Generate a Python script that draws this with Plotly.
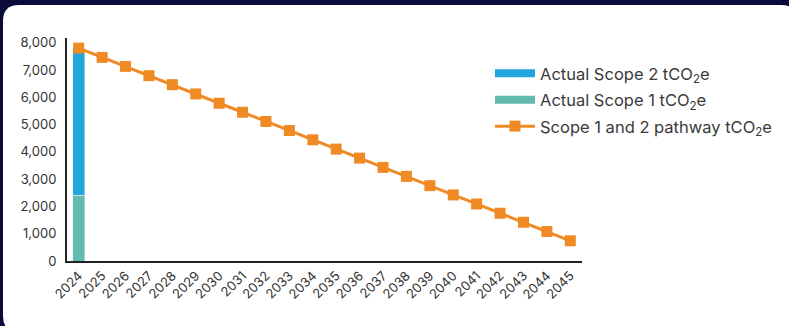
import plotly.graph_objects as go

years = [str(y) for y in range(2024, 2046)]
scope2_actual = [5400]
scope1_actual = [2400]
actual_years = ["2024"]
pathway = [7800, 7460, 7130, 6790, 6460, 6120, 5780, 5450, 5110, 4780, 4440,
           4100, 3770, 3430, 3100, 2760, 2420, 2090, 1750, 1420, 1080, 740]

BLUE = "#22A4DD"
TEAL = "#63BAAE"
ORANGE = "#F08A24"
NAVY = "#0A0A3C"

W, H = 789, 326
ML, MR, MT, MB = 67, 207, 38, 65
PW, PH = W - ML - MR, H - MT - MB


def px(x):
    return (x - ML) / PW


def py(y):
    return (H - MB - y) / PH


def rounded_rect(x0, y0, x1, y1, r):
    p = []
    p.append(f"M{px(x0 + r)},{py(y0)}")
    p.append(f"L{px(x1 - r)},{py(y0)}")
    p.append(f"Q{px(x1)},{py(y0)} {px(x1)},{py(y0 + r)}")
    p.append(f"L{px(x1)},{py(y1 - r)}")
    p.append(f"Q{px(x1)},{py(y1)} {px(x1 - r)},{py(y1)}")
    p.append(f"L{px(x0 + r)},{py(y1)}")
    p.append(f"Q{px(x0)},{py(y1)} {px(x0)},{py(y1 - r)}")
    p.append(f"L{px(x0)},{py(y0 + r)}")
    p.append(f"Q{px(x0)},{py(y0)} {px(x0 + r)},{py(y0)}")
    p.append("Z")
    return " ".join(p)


fig = go.Figure()
fig.add_trace(go.Bar(x=actual_years, y=scope1_actual, marker_color=TEAL,
                     width=0.51, showlegend=False, name="Actual Scope 1 tCO<sub>2</sub>e"))
fig.add_trace(go.Bar(x=actual_years, y=scope2_actual, marker_color=BLUE,
                     width=0.51, showlegend=False, name="Actual Scope 2 tCO<sub>2</sub>e"))
fig.add_trace(go.Scatter(x=years, y=pathway, mode="lines+markers",
                         line=dict(color=ORANGE, width=3),
                         marker=dict(symbol="square", size=11, color=ORANGE),
                         showlegend=False, name="Scope 1 and 2 pathway tCO<sub>2</sub>e"))

# legend entries
fig.add_trace(go.Scatter(x=[None], y=[None], mode="lines", line=dict(color=BLUE, width=8),
                         name="Actual Scope 2 tCO<sub>2</sub>e", legendgroup="a"))
fig.add_trace(go.Scatter(x=[None], y=[None], mode="lines", line=dict(color=TEAL, width=8),
                         name="Actual Scope 1 tCO<sub>2</sub>e", legendgroup="b"))
fig.add_trace(go.Scatter(x=[None], y=[None], mode="lines+markers",
                         line=dict(color=ORANGE, width=3),
                         marker=dict(symbol="square", size=11, color=ORANGE),
                         name="Scope 1 and 2 pathway tCO<sub>2</sub>e", legendgroup="c"))

fig.update_layout(
    width=W, height=H,
    margin=dict(l=ML, r=MR, t=MT, b=MB),
    paper_bgcolor=NAVY,
    plot_bgcolor="rgba(0,0,0,0)",
    barmode="stack",
    font=dict(family="Inter", size=13, color="#333333"),
    shapes=[dict(type="path", xref="paper", yref="paper", layer="below",
                 path=rounded_rect(3, 5, 797, 332, 16),
                 fillcolor="white", line=dict(width=0))],
    legend=dict(x=px(490), y=py(56), xanchor="left", yanchor="top",
                font=dict(size=16.5, color="#3a3a3a"), tracegroupgap=2,
                itemwidth=40, bgcolor="rgba(0,0,0,0)"),
)
fig.update_xaxes(type="category", categoryorder="array", categoryarray=years,
                 range=[-0.5, 21.5], tickangle=-45, showline=True,
                 linecolor="#222222", linewidth=2, showgrid=False, ticks="",
                 tickfont=dict(size=13))
fig.update_yaxes(range=[0, 8170], dtick=1000, tickformat=",", showline=True,
                 linecolor="#222222", linewidth=2, showgrid=False, zeroline=False,
                 ticks="", ticklabelstandoff=6, tickfont=dict(size=13))

fig.write_html("out.html")
